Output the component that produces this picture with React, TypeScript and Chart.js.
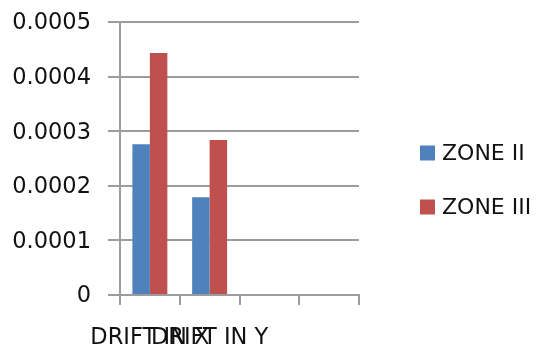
import React, { useEffect, useRef } from "react";
import { Chart, registerables } from "chart.js";

Chart.register(...registerables);

// Drift values per zone
const categories = ["DRIFT IN X", "DRIFT IN Y", "", ""];
const zoneII = [0.000276, 0.000179, null, null];
const zoneIII = [0.000443, 0.000284, null, null];
const yTickLabels = ["0", "0.0001", "0.0002", "0.0003", "0.0004", "0.0005"];

const seriesNames = ["ZONE II", "ZONE III"];
const seriesColors = ["#4F81BD", "#C0504D"];

const FONT = "'DejaVu Sans', sans-serif";
const TEXT = "#111111";
const GRID = "#9c9c9c";

// Legend drawn to the right of the plot, one row per dataset
const sideLegend = {
  id: "sideLegend",
  afterDraw(chart: Chart) {
    const { ctx, chartArea } = chart;
    ctx.save();
    ctx.font = `22px ${FONT}`;
    ctx.textBaseline = "middle";
    ctx.textAlign = "left";
    chart.data.datasets.forEach((ds, i) => {
      const x = chartArea.right + 61;
      const cy = chartArea.top + 131 + i * 54;
      ctx.fillStyle = ds.backgroundColor as string;
      ctx.fillRect(x, cy - 7.5, 15, 15);
      ctx.fillStyle = TEXT;
      ctx.fillText(ds.label as string, x + 22, cy + 1);
    });
    ctx.restore();
  },
};

export default function App() {
  const ref = useRef<HTMLCanvasElement>(null);

  useEffect(() => {
    if (!ref.current) return;
    const chart = new Chart(ref.current, {
      type: "bar",
      data: {
        labels: categories,
        datasets: [
          { label: seriesNames[0], data: zoneII, backgroundColor: seriesColors[0] },
          { label: seriesNames[1], data: zoneIII, backgroundColor: seriesColors[1] },
        ],
      },
      options: {
        responsive: false,
        animation: false,
        layout: { padding: { top: 22, right: 177, bottom: 0, left: 0 } },
        datasets: { bar: { categoryPercentage: 0.585, barPercentage: 1 } },
        plugins: { legend: { display: false }, tooltip: { enabled: false } },
        scales: {
          x: {
            grid: {
              offset: true,
              drawOnChartArea: false,
              tickLength: 10,
              color: GRID,
              lineWidth: 2,
            },
            border: { color: GRID, width: 2 },
            ticks: {
              autoSkip: false,
              maxRotation: 0,
              minRotation: 0,
              padding: 20,
              color: TEXT,
              font: { size: 22.5, family: FONT },
            },
            afterFit(scale: any) {
              scale.height = 52;
              scale.paddingLeft = 0;
              scale.paddingRight = 0;
            },
          },
          y: {
            min: 0,
            max: 0.0005,
            grid: { color: GRID, lineWidth: 2, tickLength: 12 },
            border: { color: GRID, width: 2 },
            ticks: {
              stepSize: 0.0001,
              padding: 17,
              labelOffset: 1.5,
              color: TEXT,
              font: { size: 22.5, family: FONT },
              callback: (_v: any, i: number) => yTickLabels[i],
            },
            afterFit(scale: any) {
              scale.width = 120;
              scale.paddingTop = 0;
              scale.paddingBottom = 0;
            },
          },
        },
      },
      plugins: [sideLegend],
    });
    return () => chart.destroy();
  }, []);

  return (
    <div style={{ position: "fixed", left: 0, top: 0, width: 536, height: 347, background: "#fff" }}>
      <canvas ref={ref} width={536} height={347} style={{ display: "block" }} />
    </div>
  );
}
